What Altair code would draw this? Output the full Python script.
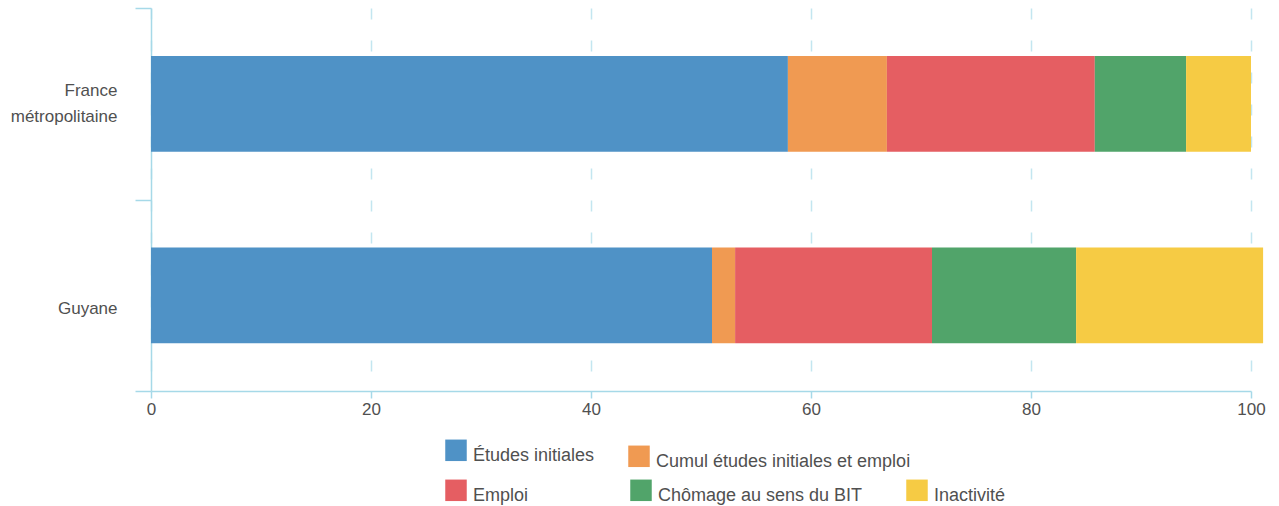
import altair as alt
import pandas as pd

# Categories and shares (%) by territory
zones = ["France métropolitaine", "Guyane"]
statuts = [
    "Études initiales",
    "Cumul études initiales et emploi",
    "Emploi",
    "Chômage au sens du BIT",
    "Inactivité",
]
france = [57.9, 9.0, 18.9, 8.3, 5.9]
guyane = [51.0, 2.1, 17.9, 13.1, 17.0]
couleurs = ["#4f92c6", "#f09a52", "#e55e62", "#51a46a", "#f6cb44"]

rows = []
for zone, vals in zip(zones, [france, guyane]):
    for i, (s, v) in enumerate(zip(statuts, vals)):
        rows.append({"zone": zone, "statut": s, "ordre": i, "part": v})
df = pd.DataFrame(rows)

AXIS_BLUE = "#a6d9e8"
GRID_BLUE = "#c3e6f0"
TEXT = "#505050"
FONT = "Liberation Sans"

bars = (
    alt.Chart(df)
    .mark_bar(height=alt.RelativeBandSize(0.5))
    .encode(
        x=alt.X(
            "part:Q",
            stack="zero",
            scale=alt.Scale(domain=[0, 100], nice=False),
            axis=alt.Axis(
                values=[0, 20, 40, 60, 80, 100],
                title=None,
                grid=True,
                gridDash=[11, 21],
                gridDashOffset=12,
                gridColor=GRID_BLUE,
                gridWidth=1.5,
                domainColor=AXIS_BLUE,
                domainWidth=1.5,
                tickColor=AXIS_BLUE,
                tickWidth=1.5,
                tickSize=7,
                labelFontSize=17,
                labelColor=TEXT,
                labelFont=FONT,
                labelPadding=3,
                labelFlush=False,
            ),
        ),
        y=alt.Y(
            "zone:N",
            sort=zones,
            scale=alt.Scale(paddingInner=0, paddingOuter=0),
            axis=alt.Axis(
                title=None,
                grid=False,
                tickBand="extent",
                domainColor=AXIS_BLUE,
                domainWidth=1.5,
                tickColor=AXIS_BLUE,
                tickWidth=1.5,
                tickSize=16,
                labelFontSize=17,
                labelColor=TEXT,
                labelFont=FONT,
                labelPadding=18,
                labelLineHeight=26,
                labelOffset=-13,
                labelExpr=(
                    "datum.value == null ? '' : "
                    "(datum.value == 'Guyane' ? ['', 'Guyane'] : split(datum.value, ' '))"
                ),
            ),
        ),
        color=alt.Color(
            "statut:N",
            scale=alt.Scale(domain=statuts, range=couleurs),
            legend=None,
        ),
        order=alt.Order("ordre:Q"),
    )
)

# One legend entry per layer, each with its own colour scale
legend_pos = [(294, 437), (477, 443), (294, 477), (479, 477), (755, 477)]
legend_layers = []
for s, c, (lx, ly) in zip(statuts, couleurs, legend_pos):
    legend_layers.append(
        alt.Chart(df)
        .transform_filter("false")
        .mark_square()
        .encode(
            color=alt.Color(
                "statut:N",
                scale=alt.Scale(domain=[s], range=[c]),
                legend=alt.Legend(title=None, orient="none", legendX=lx, legendY=ly),
            )
        )
    )

chart = (
    alt.layer(bars, *legend_layers)
    .resolve_scale(color="independent")
    .properties(
        width=1100,
        height=383,
        autosize=alt.AutoSizeParams(type="none"),
        padding={"left": 151, "top": 8, "right": 28, "bottom": 115},
    )
    .configure_view(stroke=None)
    .configure_legend(
        # square swatch whose bottom lines up with the label baseline
        symbolType="M-1,-1.53H1V0.47H-1Z",
        symbolSize=462,
        symbolStrokeWidth=0,
        symbolOpacity=1,
        labelFontSize=18,
        labelFont=FONT,
        labelColor=TEXT,
        labelOffset=6,
        labelLimit=400,
        padding=0,
    )
)

chart.save("out.html", embed_options={"renderer": "svg", "actions": False})
